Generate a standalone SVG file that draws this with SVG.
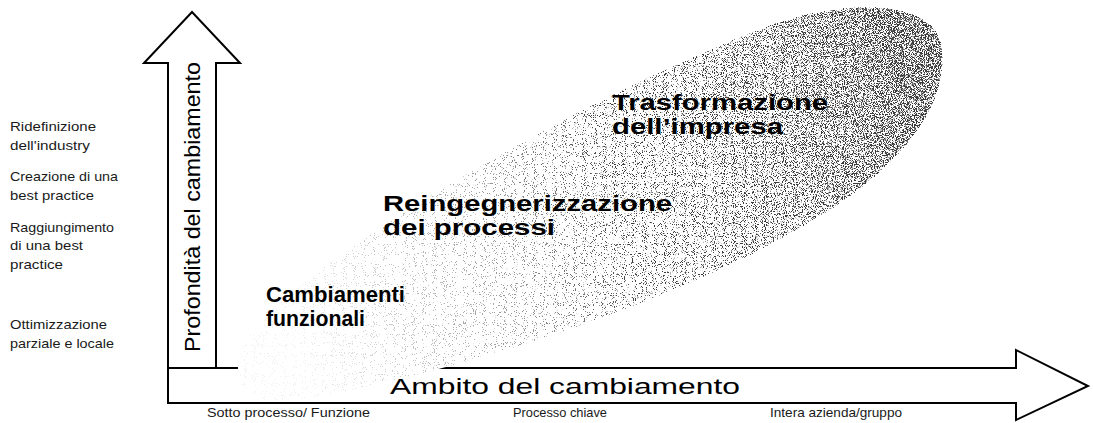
<svg xmlns="http://www.w3.org/2000/svg" width="1093" height="423" viewBox="0 0 1093 423">
<style>
.lbl{font-family:"Liberation Sans",Arial,sans-serif;font-size:13.5px;fill:#1a1a1a}
.axis{font-family:"Liberation Sans",Arial,sans-serif;font-size:13px;fill:#1a1a1a}
.big{font-family:"Liberation Sans",Arial,sans-serif;font-size:22px;font-weight:bold;fill:#000}
.arrowtxt{font-family:"Liberation Sans",Arial,sans-serif;font-size:22px;fill:#000}
.arrow{fill:#fff;stroke:#000;stroke-width:2;stroke-linejoin:miter}
</style>
<defs>
<linearGradient id="shade" gradientUnits="userSpaceOnUse" x1="290" y1="300" x2="930" y2="140">
<stop offset="0" stop-color="#000" stop-opacity="0.02"/>
<stop offset="0.35" stop-color="#000" stop-opacity="0.14"/>
<stop offset="0.65" stop-color="#000" stop-opacity="0.32"/>
<stop offset="0.85" stop-color="#000" stop-opacity="0.48"/>
<stop offset="1" stop-color="#000" stop-opacity="0.62"/>
</linearGradient>
<filter id="stipple" filterUnits="userSpaceOnUse" x="220" y="0" width="740" height="423" color-interpolation-filters="sRGB">
<feTurbulence type="fractalNoise" baseFrequency="1.1" numOctaves="1" seed="4" result="t"/>
<feColorMatrix in="t" type="matrix" values="0 0 0 0 0  0 0 0 0 0  0 0 0 0 0  3 0 0 0 -1" result="n"/>
<feComposite in="SourceGraphic" in2="n" operator="arithmetic" k1="0" k2="4" k3="4" k4="-4" result="d"/>
<feFlood flood-color="#3a3a3a" result="c"/>
<feComposite in="c" in2="d" operator="in"/>
</filter>
<path id="blob" d="M 942 50 C 948 120, 880 190, 760 250 C 620 320, 450 372, 320 396 C 270 406, 240 400, 238 370 C 236 330, 300 280, 400 215 C 520 140, 650 70, 780 22 C 850 0, 937 -2, 942 50 Z"/>
</defs>
<rect width="1093" height="423" fill="#fff"/>

<g id="connectors">
<path id="axis-vertical" class="arrow" d="M 168 368 L 168 63 L 144 63 L 192 12 L 240 63 L 216 63 L 216 368 Z"/>
<path id="axis-horizontal" class="arrow" d="M 168 368 L 1016 368 L 1016 350 L 1088 386 L 1016 420 L 1016 403 L 168 403 Z"/>
</g>

<g id="change-area">
<use href="#blob" fill="#fff"/>
<use href="#blob" fill="url(#shade)" filter="url(#stipple)"/>
</g>

<g id="axis-labels">
<text class="arrowtxt" transform="translate(200,207) rotate(-90)" text-anchor="middle" textLength="290" lengthAdjust="spacingAndGlyphs">Profondità del cambiamento</text>
<text class="arrowtxt" x="390" y="394" textLength="350" lengthAdjust="spacingAndGlyphs">Ambito del cambiamento</text>
</g>

<g id="depth-levels">
<text class="lbl" x="10" y="131" textLength="86" lengthAdjust="spacingAndGlyphs">Ridefinizione</text>
<text class="lbl" x="10" y="150" textLength="80" lengthAdjust="spacingAndGlyphs">dell'industry</text>
<text class="lbl" x="10" y="181" textLength="108" lengthAdjust="spacingAndGlyphs">Creazione di una</text>
<text class="lbl" x="10" y="200" textLength="84" lengthAdjust="spacingAndGlyphs">best practice</text>
<text class="lbl" x="10" y="232" textLength="104" lengthAdjust="spacingAndGlyphs">Raggiungimento</text>
<text class="lbl" x="10" y="250" textLength="73" lengthAdjust="spacingAndGlyphs">di una best</text>
<text class="lbl" x="10" y="269" textLength="53" lengthAdjust="spacingAndGlyphs">practice</text>
<text class="lbl" x="10" y="329" textLength="97" lengthAdjust="spacingAndGlyphs">Ottimizzazione</text>
<text class="lbl" x="10" y="348" textLength="104" lengthAdjust="spacingAndGlyphs">parziale e locale</text>
</g>

<g id="scope-levels">
<text class="axis" x="207" y="417" textLength="163" lengthAdjust="spacingAndGlyphs">Sotto processo/ Funzione</text>
<text class="axis" x="513" y="417" textLength="94" lengthAdjust="spacingAndGlyphs">Processo chiave</text>
<text class="axis" x="770" y="417" textLength="132" lengthAdjust="spacingAndGlyphs">Intera azienda/gruppo</text>
</g>

<g id="node-cambiamenti">
<text class="big" x="266" y="302" textLength="139" lengthAdjust="spacingAndGlyphs">Cambiamenti</text>
<text class="big" x="266" y="326" textLength="99" lengthAdjust="spacingAndGlyphs">funzionali</text>
</g>
<g id="node-reingegnerizzazione">
<text class="big" x="383" y="211" textLength="289" lengthAdjust="spacingAndGlyphs">Reingegnerizzazione</text>
<text class="big" x="383" y="235" textLength="172" lengthAdjust="spacingAndGlyphs">dei processi</text>
</g>
<g id="node-trasformazione">
<text class="big" x="612" y="110" textLength="216" lengthAdjust="spacingAndGlyphs">Trasformazione</text>
<text class="big" x="612" y="134" textLength="171" lengthAdjust="spacingAndGlyphs">dell’impresa</text>
</g>
</svg>
